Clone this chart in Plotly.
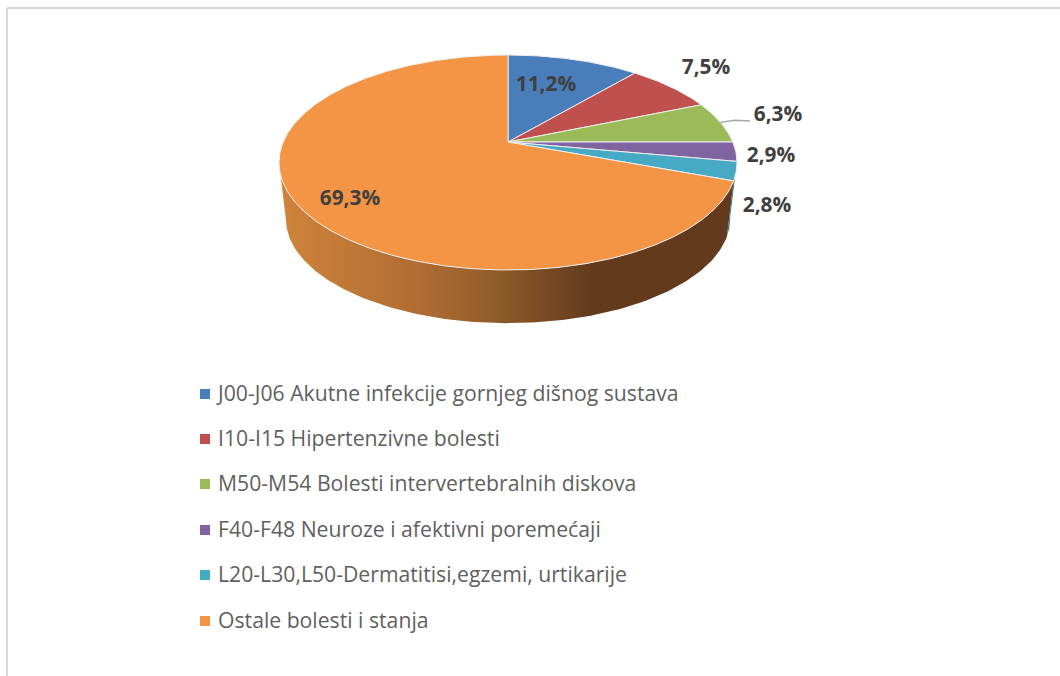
import numpy as np
import plotly.graph_objects as go

categories = ["J00-J06 Akutne infekcije gornjeg dišnog sustava",
              "I10-I15 Hipertenzivne bolesti",
              "M50-M54 Bolesti intervertebralnih diskova",
              "F40-F48 Neuroze i afektivni poremećaji",
              "L20-L30,L50-Dermatitisi,egzemi, urtikarije",
              "Ostale bolesti i stanja"]
values = [11.2, 7.5, 6.3, 2.9, 2.8, 69.3]
value_labels = ["11,2%", "7,5%", "6,3%", "2,9%", "2,8%", "69,3%"]
colors = ["#4a7ebb", "#c0504d", "#9bbb59", "#8064a2", "#46aac4", "#f49545"]

# Pixel-based drawing frame (axes map 1:1 to the page)
W, H = 1060, 676
CX, CY = 508.0, 142.0
A, B, K = 224.8, 103.6, 0.1907   # perspective ellipse
S, CY2 = 0.97, 199.0             # lower rim
TANGENT = 259                    # silhouette angle of the left side
label_xy = [(546, 86), (706, 69), (778, 116), (771, 157), (767, 207), (350, 200)]
legend_x, legend_y = 205, [394, 439, 484, 530, 575, 621]
text_y_shift = 1.5
FONT = "Open Sans"


def rim(t_deg):
    t = np.radians(t_deg)
    u, v = np.sin(t), np.cos(t)
    d = 1 + K * v
    return CX + A * u / d, CY - B * v / d


def lower(t_deg):
    x, y = rim(t_deg)
    return CX + S * (x - CX), CY2 + S * (y - CY)


edges = np.concatenate([[0], np.cumsum(values)]) * 3.6
fig = go.Figure()

# side walls
def wall(a0, a1, **kw):
    t = np.linspace(a0, a1, 160)
    x1, y1 = rim(t)
    x2, y2 = lower(t[::-1])
    fig.add_trace(go.Scatter(x=np.r_[x1, x2], y=np.r_[y1, y2], mode="lines", fill="toself",
                             line=dict(width=0), hoverinfo="skip", showlegend=False, **kw))

wall(edges[4], edges[5], fillcolor="#2f7f93")
wall(edges[5], TANGENT, fillgradient=dict(
    type="horizontal", start=279, stop=730,
    colorscale=[[0, "#d0843c"], [0.3, "#b26d33"], [0.45, "#96602b"],
                [0.7, "#633a1c"], [1, "#633a1c"]]))

# top face
for i, c in enumerate(colors):
    t = np.linspace(edges[i], edges[i + 1], max(6, int(values[i] * 8)))
    x, y = rim(t)
    fig.add_trace(go.Scatter(x=np.r_[CX, x, CX], y=np.r_[CY, y, CY], mode="lines", fill="toself",
                             fillcolor=c, line=dict(color="#eeeeee", width=1),
                             name=categories[i], showlegend=False, hoverinfo="name"))

# leader line of the 6,3% label
lx, ly = rim((edges[2] + edges[3]) / 2)
fig.add_trace(go.Scatter(x=[lx, lx + 14, label_xy[2][0] - 28], y=[ly, ly - 2, label_xy[2][1] + 5],
                         mode="lines", line=dict(color="#a6a6a6", width=1.5),
                         hoverinfo="skip", showlegend=False))

# value labels
fig.add_trace(go.Scatter(x=[p[0] for p in label_xy], y=[p[1] for p in label_xy], mode="text",
                         text=value_labels, textposition="middle center",
                         textfont=dict(family=FONT, size=20.8, color="#404040", weight=700),
                         hoverinfo="skip", showlegend=False))

# legend
fig.add_trace(go.Scatter(x=[legend_x] * 6, y=legend_y, mode="markers",
                         marker=dict(symbol="square", size=10, color=colors),
                         hoverinfo="skip", showlegend=False))
fig.add_trace(go.Scatter(x=[legend_x + 13] * 6, y=[v + text_y_shift for v in legend_y], mode="text",
                         text=categories, textposition="middle right",
                         textfont=dict(family=FONT, size=21.2, color="#5f5f5f"),
                         hoverinfo="skip", showlegend=False))

fig.update_layout(
    width=W, height=H, margin=dict(l=0, r=0, t=0, b=0),
    paper_bgcolor="white", plot_bgcolor="white", showlegend=False,
    xaxis=dict(range=[0, W], visible=False, fixedrange=True),
    yaxis=dict(range=[H, 0], visible=False, fixedrange=True),
    shapes=[
        dict(type="line", xref="x", yref="y", x0=7, x1=7, y0=8, y1=H, line=dict(color="#d9d9d9", width=2)),
        dict(type="line", xref="x", yref="y", x0=7, x1=W, y0=8, y1=8, line=dict(color="#d9d9d9", width=2)),
    ],
)
fig.write_html("out.html", post_script="document.body.style.margin='0';",
               config=dict(displayModeBar=False))
